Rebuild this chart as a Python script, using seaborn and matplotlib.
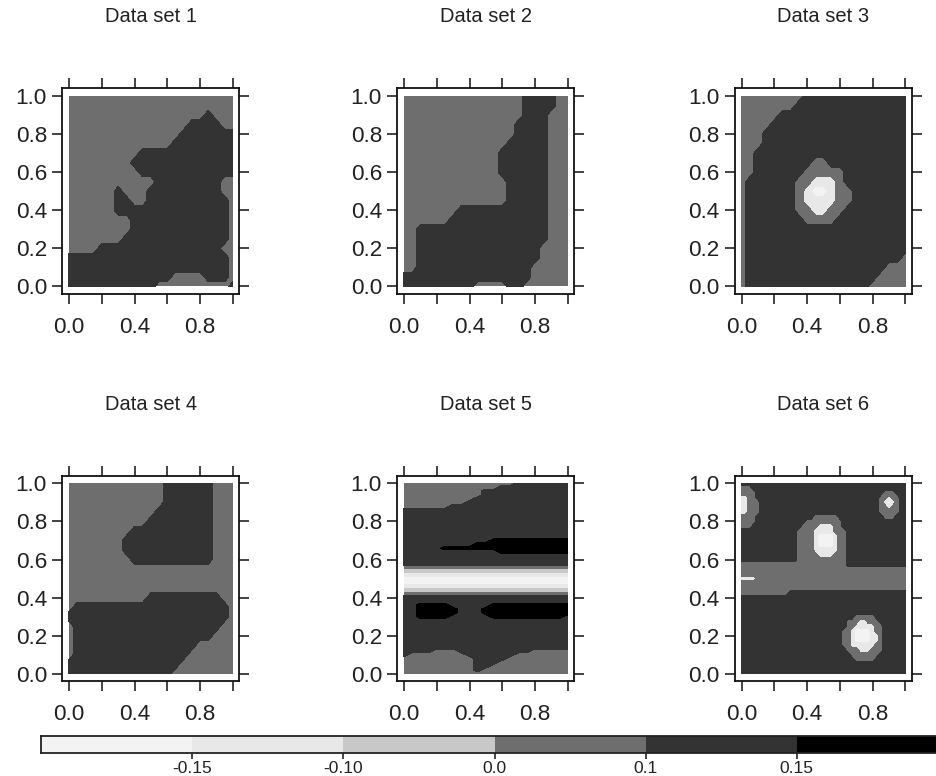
import numpy as np
import matplotlib
matplotlib.use("Agg")
import matplotlib.pyplot as plt
from matplotlib.colors import ListedColormap
import seaborn as sns

sns.set_style("white")
plt.rcParams["font.family"] = ["Liberation Sans", "DejaVu Sans"]

titles = ["Data set 1", "Data set 2", "Data set 3", "Data set 4", "Data set 5", "Data set 6"]

# level classes 0..5, one colour per interval of the key
level_colors = ["#f3f3f3", "#e8e8e8", "#c8c8c8", "#6e6e6e", "#333333", "#000000"]
legend_levels = [0, 1, 2, 3, 4, 5]
level_breaks = [-0.15, -0.10, 0.0, 0.1, 0.15]
break_labels = ["-0.15", "-0.10", "0.0", "0.1", "0.15"]

x_ticks = [0.0, 0.2, 0.4, 0.6, 0.8, 1.0]
x_labels = ["0.0", "", "0.4", "", "0.8", ""]
y_ticks = [0.0, 0.2, 0.4, 0.6, 0.8, 1.0]
y_labels = ["0.0", "0.2", "0.4", "0.6", "0.8", "1.0"]

# level class; first row is y=1, last row y=0, columns x=0..1
set1 = [
    "333333333333333333333",
    "333333333333333333333",
    "333333333333333334333",
    "333333333333333444433",
    "333333333333334444444",
    "333333333333344444444",
    "333333333444444444444",
    "333333334444444444444",
    "333333333444444444444",
    "333333333334444444433",
    "333333433344444444433",
    "333333443344444444443",
    "333333444444444444443",
    "333333334444444444443",
    "333333334444444444443",
    "333333344444444444443",
    "333344444444444444433",
    "444444444444444444443",
    "444444444444444444443",
    "444444444444433334443",
    "444444444443333333334",
]
set2 = [
    "333333333333333444433",
    "333333333333333444433",
    "333333333333333444333",
    "333333333333334444333",
    "333333333333334444333",
    "333333333333344444333",
    "333333333333444444333",
    "333333333333444444333",
    "333333333333444444333",
    "333333333333344444333",
    "333333333333344444333",
    "333333333333344444333",
    "333333344444444444333",
    "333333444444444444333",
    "334444444444444444333",
    "334444444444444444333",
    "334444444444444443333",
    "334444444444444443333",
    "334444444444444433333",
    "444444444444444433333",
    "444444444333344333333",
]
set3 = [
    "333333334444444444444",
    "333333344444444444444",
    "333334444444444444444",
    "333344444444444444444",
    "333444444444444444444",
    "333444444444444444444",
    "334444444444444444444",
    "334444444334444444444",
    "334444443333344444444",
    "344444433111344444444",
    "344444431001334444444",
    "344444431111334444444",
    "344444433113344444444",
    "344444443333444444444",
    "344444444444444444444",
    "344444444444444444444",
    "344444444444444444444",
    "344444444444444444443",
    "344444444444444444333",
    "344444444444444443333",
    "344444444444444433333",
]
set4 = [
    "333333333333444444333",
    "333333333333444444333",
    "333333333333444444333",
    "333333333334444444333",
    "333333333344444444333",
    "333333334444444444333",
    "333333344444444444333",
    "333333344444444444333",
    "333333334444444444333",
    "333333333333333333333",
    "333333333333333333333",
    "333333333333333333333",
    "333333333344444444433",
    "344444444444444444443",
    "444444444444444444443",
    "344444444444444444433",
    "344444444444444444333",
    "344444444444444433333",
    "344444444444444333333",
    "444444444444443333333",
    "444444444444433333333",
]
set5 = [
    "333333333333334444444",
    "333333333333444444444",
    "333333333344444444444",
    "333333333344444444444",
    "333333333444444444444",
    "333333334444444444444",
    "333333444444444444444",
    "444444444444444444444",
    "444444444444444444444",
    "444444444444444444444",
    "444444444444444444444",
    "444444444444444444444",
    "444444444444444444444",
    "444444444444444444444",
    "444444444444444444444",
    "444444444445555555555",
    "444444444555555555555",
    "444445555555555555555",
    "444444444444555555555",
    "444444444444444444444",
    "444444444444444444444",
    "444444444444444444444",
    "333333333333333333333",
    "222222222222222222222",
    "111111111111111111111",
    "000000000000000000000",
    "000000000000000000000",
    "111111111111111111111",
    "222222222222222222222",
    "333333333333333333333",
    "444444444444444444444",
    "444444444444444444444",
    "445555444445555555555",
    "445555544455555555555",
    "445555544455555555555",
    "445555444445555555554",
    "444444444444444444444",
    "444444444444444444444",
    "444444444444444444444",
    "444444444444444444444",
    "444444444444444444444",
    "444444444444444444444",
    "444444444444444444444",
    "444444444444444444444",
    "444433344444444433333",
    "433333334444443333333",
    "333333333444433333333",
    "333333333444333333333",
    "333333333443333333333",
    "333333333433333333333",
    "333333333333333333333",
]
set6 = [
    "4444444444 4444444444 4444444444 4444444444 4",
    "3334444444 4444444444 4444444444 4444444444 4",
    "3333444444 4444444444 4444444444 4444433344 4",
    "1133444444 4444444444 4444444444 4444331334 4",
    "1133344444 4444444444 4444444444 4444310134 4",
    "1133344444 4444444444 4444444444 4444331334 4",
    "1133344444 4444444444 4444444444 4444333334 4",
    "3333444444 4444444433 3333444444 4444433344 4",
    "3333444444 4444443333 3333344444 4444444444 4",
    "3334444444 4444433331 1113344444 4444444444 4",
    "4444444444 4444333311 1113334444 4444444444 4",
    "4444444444 4444333310 0001334444 4444444444 4",
    "4444444444 4444333310 0001334444 4444444444 4",
    "4444444444 4444333310 0001334444 4444444444 4",
    "4444444444 4444333311 1111334444 4444444444 4",
    "4444444444 4444333331 1113334444 4444444444 4",
    "4444444444 4444333333 3333334444 4444444444 4",
    "3333333333 3333333333 3333334444 4444444444 4",
    "3333333333 3333333333 3333333333 3333333333 3",
    "3333333333 3333333333 3333333333 3333333333 3",
    "1111333333 3333333333 3333333333 3333333333 3",
    "3333333333 3333333333 3333333333 3333333333 3",
    "3333333333 3333333333 3333333333 3333333333 3",
    "3333333333 3344444444 4444444444 4444444444 4",
    "4444444444 4444444444 4444444444 4444444444 4",
    "4444444444 4444444444 4444444444 4444444444 4",
    "4444444444 4444444444 4444444444 4444444444 4",
    "4444444444 4444444444 4444444444 4444444444 4",
    "4444444444 4444444444 4444444433 3334444444 4",
    "4444444444 4444444444 4444443331 1333444444 4",
    "4444444444 4444444444 4444443311 1113344444 4",
    "4444444444 4444444444 4444433100 0013344444 4",
    "4444444444 4444444444 4444433100 0011344444 4",
    "4444444444 4444444444 4444433100 0011344444 4",
    "4444444444 4444444444 4444433111 1113344444 4",
    "4444444444 4444444444 4444443331 1133344444 4",
    "4444444444 4444444444 4444444333 3333444444 4",
    "4444444444 4444444444 4444444433 3334444444 4",
    "4444444444 4444444444 4444444444 4444444444 4",
    "4444444444 4444444444 4444444444 4444444444 4",
    "4444444444 4444444444 4444444444 4444444444 4",
]
panels = [set1, set2, set3, set4, set5, set6]


def to_grid(rows):
    cells = [[int(ch) for ch in r.replace(" ", "")] for r in rows]
    widths = {len(c) for c in cells}
    assert len(widths) == 1, widths
    return np.array(cells)[::-1]  # bottom row first


def draw_levels(ax, rows):
    grid = to_grid(rows)
    ny, nx = grid.shape
    xs = np.linspace(0, 1, nx)
    ys = np.linspace(0, 1, ny)
    low = grid.min()
    ax.fill_between([0, 1], 0, 1, color=level_colors[low], lw=0)
    # paint each "at least level k" region on top of the previous one
    for k in range(low + 1, len(level_colors)):
        mask = (grid >= k).astype(float)
        if mask.any():
            ax.contourf(xs, ys, mask, levels=[0.5, 1.5], colors=[level_colors[k]])


W, H = 936, 776
fig = plt.figure(figsize=(W / 100, H / 100), dpi=100)

col_left = [62.4, 397.4, 735.0]
row_top = [88.4, 475.7]
ax_w, ax_h = 177.0, 205.7

for n, (rows, title) in enumerate(zip(panels, titles)):
    r, c = divmod(n, 3)
    ax = fig.add_axes([col_left[c] / W, 1 - (row_top[r] + ax_h) / H, ax_w / W, ax_h / H])
    draw_levels(ax, rows)
    ax.set_xlim(-0.04, 1.04)
    ax.set_ylim(-0.04, 1.04)
    ax.set_xticks(x_ticks)
    ax.set_xticklabels(x_labels)
    ax.set_yticks(y_ticks)
    ax.set_yticklabels(y_labels)
    ax.tick_params(direction="out", length=7.5, width=1.1, color="#111111",
                   top=True, right=True, bottom=True, left=True,
                   labeltop=False, labelright=False, labelsize=16.2, labelcolor="#222222")
    ax.tick_params(axis="x", pad=9)
    ax.tick_params(axis="y", pad=3.5)
    for s in ax.spines.values():
        s.set_visible(True)
        s.set_linewidth(1.3)
        s.set_color("#111111")
    ax.annotate(title, xy=(0.5, 1), xycoords="axes fraction", xytext=(0, 51.5),
                textcoords="offset points", ha="center", va="center",
                fontsize=14.5, color="#222222")

# colour key along the bottom
cax = fig.add_axes([41 / W, 1 - 752.7 / H, 907 / W, 17 / H])
sns.heatmap(np.array([legend_levels]), cmap=ListedColormap(level_colors), vmin=-0.5, vmax=5.5,
            cbar=False, xticklabels=False, yticklabels=False, ax=cax)
cax.set_xticks(np.arange(1, len(level_breaks) + 1))
cax.set_xticklabels(break_labels)
cax.set_yticks([])
cax.tick_params(axis="x", bottom=True, length=4, width=1.1, color="#111111", pad=2,
                labelsize=12.5, labelcolor="#222222")
for s in cax.spines.values():
    s.set_visible(True)
    s.set_linewidth(1.3)
    s.set_color("#222222")

fig.savefig("out.png", dpi=100)
